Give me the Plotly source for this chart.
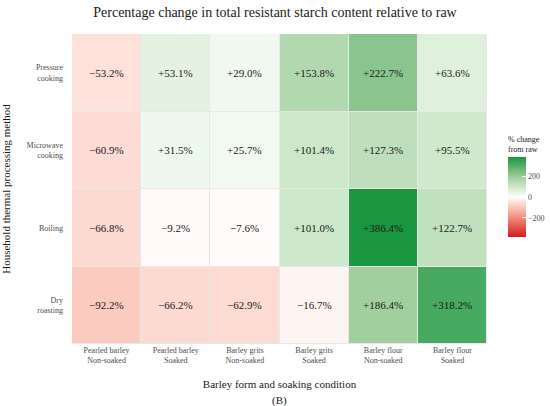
"""
大麦热加工方式对抗性淀粉含量影响的热图
- 相对生样的百分比变化
- 输出 out.html
"""
import plotly.graph_objects as go

# 横轴：大麦形态 + 浸泡条件
barley_forms = [
    "Pearled barley<br>Non-soaked",
    "Pearled barley<br>Soaked",
    "Barley grits<br>Non-soaked",
    "Barley grits<br>Soaked",
    "Barley flour<br>Non-soaked",
    "Barley flour<br>Soaked",
]

# 纵轴：加工方法（从上到下）
methods = [
    "Pressure<br>cooking",
    "Microwave<br>cooking",
    "Boiling",
    "Dry<br>roasting",
]

# 各方法对应的百分比变化
pressure_cooking = [-53.2, 53.1, 29.0, 153.8, 222.7, 63.6]
microwave_cooking = [-60.9, 31.5, 25.7, 101.4, 127.3, 95.5]
boiling = [-66.8, -9.2, -7.6, 101.0, 386.4, 122.7]
dry_roasting = [-92.2, -66.2, -62.9, -16.7, 186.4, 318.2]

colorbar_ticks = [-200, 0, 200]

FONT = "Liberation Serif"

# 红-白-绿发散色阶（中间加点，近似 Lab 插值的偏橙粉色调）
COLORSCALE = [
    [0.0, "#d7191c"],
    [0.25, "#f0927f"],
    [0.375, "#fbc8bc"],
    [0.5, "#ffffff"],
    [0.625, "#cfe8cb"],
    [0.75, "#9dcd9b"],
    [1.0, "#1a9641"],
]


def fmt_pct(value: float) -> str:
    """格式化百分比，负号用 U+2212"""
    if value < 0:
        return f"\u2212{abs(value):.1f}%"
    return f"+{value:.1f}%"


def build_figure() -> go.Figure:
    z = [pressure_cooking, microwave_cooking, boiling, dry_roasting]
    limit = max(abs(v) for row in z for v in row)

    fig = go.Figure(
        go.Heatmap(
            x=barley_forms,
            y=methods,
            z=z,
            zmin=-limit,
            zmax=limit,
            colorscale=COLORSCALE,
            xgap=1,
            ygap=1,
            hoverinfo="skip",
            colorbar=dict(
                title=dict(text="% change<br>from raw", side="top",
                           font=dict(family=FONT, size=8, color="#222222")),
                thickness=18,
                len=104,
                lenmode="pixels",
                ypad=0,
                xpad=0,
                x=1.0506,
                xanchor="left",
                y=0.513,
                yanchor="middle",
                tickvals=colorbar_ticks,
                ticktext=["\u2212200", "0", "200"],
                ticks="inside",
                ticklen=4,
                tickcolor="#ffffff",
                tickfont=dict(family=FONT, size=8, color="#4d4d4d"),
                outlinewidth=0,
            ),
        )
    )

    # 单元格数值标签
    for method, row in zip(methods, z):
        for form, value in zip(barley_forms, row):
            fig.add_annotation(
                x=form, y=method, text=fmt_pct(value), showarrow=False,
                font=dict(family=FONT, size=11, color="#1a1a1a"),
            )

    fig.add_annotation(
        text="(B)", x=0.5, xref="paper", xanchor="center",
        y=-0.181, yref="paper", yanchor="middle", showarrow=False,
        font=dict(family=FONT, size=11, color="#1a1a1a"),
    )

    fig.update_layout(
        width=550,
        height=406,
        margin=dict(l=72, r=63, t=34, b=62, autoexpand=False),
        paper_bgcolor="white",
        plot_bgcolor="#e8e8e8",
        font=dict(family=FONT, color="#222222"),
        title=dict(
            text="Percentage change in total resistant starch content relative to raw",
            x=0.5,
            xanchor="center",
            y=1 - 12 / 406,
            yanchor="middle",
            font=dict(family=FONT, size=14, color="#1a1a1a"),
        ),
    )

    fig.update_xaxes(
        title=dict(text="Barley form and soaking condition",
                   font=dict(family=FONT, size=11, color="#1a1a1a")),
        tickfont=dict(family=FONT, size=8, color="#4d4d4d"),
        ticks="",
        showgrid=False,
        zeroline=False,
        automargin=False,
    )
    fig.update_yaxes(
        title=dict(text="Household thermal processing method",
                   font=dict(family=FONT, size=11, color="#1a1a1a")),
        tickfont=dict(family=FONT, size=8, color="#4d4d4d"),
        autorange="reversed",
        ticks="",
        ticklabelstandoff=8,
        showgrid=False,
        zeroline=False,
        automargin=False,
    )
    return fig


def main() -> None:
    fig = build_figure()
    # 去掉页面默认边距，让图表贴齐窗口左上角
    fig.write_html(
        "out.html",
        config={"displayModeBar": False},
        post_script="document.body.style.margin='0';",
    )


if __name__ == "__main__":
    main()
